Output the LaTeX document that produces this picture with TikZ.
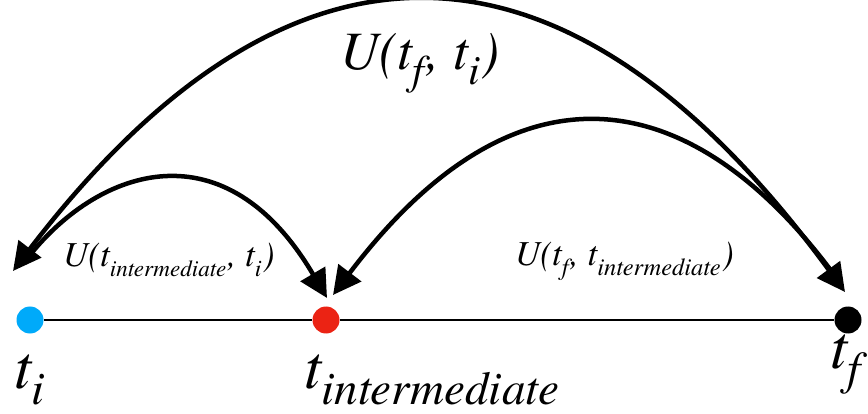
\documentclass[tikz,border=0pt]{standalone}
\usepackage{fontspec}
\newfontfamily\tmsit{texgyretermes-italic.otf}
\usetikzlibrary{arrows.meta}
\definecolor{dotblue}{RGB}{0,170,250}
\definecolor{dotred}{RGB}{235,35,20}
\newcommand\ssub[2][0.72]{\raisebox{-0.27em}{\scalebox{#1}{#2}}\kern0.04em}
\begin{document}
\begin{tikzpicture}[x=1pt,y=-1pt,
  dot/.style={circle,inner sep=0pt,minimum size=27pt},
  head/.tip={Triangle[length=28pt,width=28pt]},
  arc/.style={line width=4.5pt,-head},
  lbl/.style={inner sep=0pt,anchor=base west},
]
\useasboundingbox (0,0) rectangle (868,414);
% time axis
\node[dot,fill=dotblue] (ti) at (30,320) {};
\node[dot,fill=dotred] (tint) at (326,320) {};
\node[dot,fill=black] (tf) at (848,320) {};
\draw[line width=2.5pt] (ti) -- (tint) -- (tf);
% arc end points
\coordinate (bigL) at (13,271);
\coordinate (bigR) at (845,292);
\coordinate (smS) at (30,255);
\coordinate (smE) at (327,298);
\coordinate (mdS) at (838,280);
\coordinate (mdE) at (333,295);
% arcs
\draw[arc,head-head] (bigL) .. controls (291,-93) and (568,-86) .. (bigR);
\draw[arc] (smS) .. controls (100,168) and (225,125) .. (smE);
\draw[arc] (mdS) .. controls (700,90) and (523,44) .. (mdE);
% labels
\node[lbl,font=\tmsit\fontsize{54pt}{54pt}\selectfont] (Ufi) at (340,70) {U(t\ssub[0.78]{f}, t\ssub[0.78]{i})};
\node[lbl,font=\tmsit\fontsize{35pt}{35pt}\selectfont] (Uit) at (63,267) {U(t\ssub[0.66]{intermediate}, t\ssub[0.68]{i})};
\node[lbl,font=\tmsit\fontsize{35pt}{35pt}\selectfont] (Uft) at (515,266) {U(t\ssub[0.7]{f}, t\ssub[0.7]{intermediate})};
\node[lbl,font=\tmsit\fontsize{62pt}{62pt}\selectfont] (lti) at (14,388) {t\ssub[0.76]{i}};
\node[lbl,font=\tmsit\fontsize{62pt}{62pt}\selectfont] (ltint) at (304,388) {t\ssub[0.76]{intermediate}};
\node[lbl,font=\tmsit\fontsize{62pt}{62pt}\selectfont] (ltf) at (830,368) {t\ssub[0.76]{f}};
\end{tikzpicture}
\end{document}
